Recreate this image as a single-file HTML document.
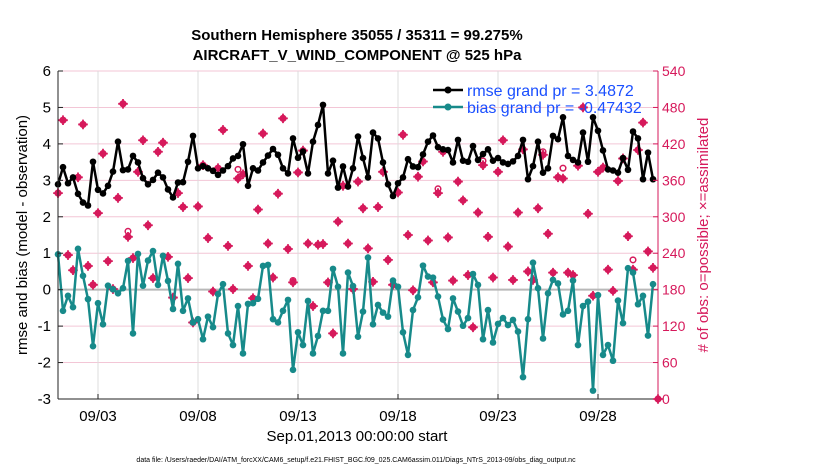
<!DOCTYPE html>
<html><head><meta charset="utf-8">
<style>
html,body{margin:0;padding:0;background:#fff;}
svg{display:block;font-family:"Liberation Sans",sans-serif;}
</style></head>
<body>
<svg id="chart" width="830" height="470" viewBox="0 0 830 470" xmlns="http://www.w3.org/2000/svg">
<rect width="830" height="470" fill="#fff"/>
<text x="357" y="40" text-anchor="middle" font-size="15" font-weight="bold">Southern Hemisphere 35055 / 35311 = 99.275%</text>
<text x="357" y="60" text-anchor="middle" font-size="15" font-weight="bold">AIRCRAFT_V_WIND_COMPONENT @ 525 hPa</text>
<g id="grid"></g>
<g id="marks"></g>
<g id="axes"></g>
<text transform="translate(27,235) rotate(-90)" text-anchor="middle" font-size="15">rmse and bias (model - observation)</text>
<text transform="translate(708,235) rotate(-90)" text-anchor="middle" font-size="15" fill="#d6195b"># of obs: o=possible; ×=assimilated</text>
<text x="357" y="441" text-anchor="middle" font-size="15">Sep.01,2013 00:00:00 start</text>
<text x="356" y="462" text-anchor="middle" font-size="7">data file: /Users/raeder/DAI/ATM_forcXX/CAM6_setup/f.e21.FHIST_BGC.f09_025.CAM6assim.011/Diags_NTrS_2013-09/obs_diag_output.nc</text>
<g id="legend">
<line x1="433" y1="90" x2="463" y2="90" stroke="#000" stroke-width="2.5"/>
<circle cx="448" cy="90" r="3.5" fill="#000"/>
<text x="467" y="96" font-size="16" fill="#1a4fff">rmse grand pr = 3.4872</text>
<line x1="433" y1="107" x2="463" y2="107" stroke="#178a8a" stroke-width="2.5"/>
<circle cx="448" cy="107" r="3.5" fill="#178a8a"/>
<text x="467" y="113" font-size="16" fill="#1a4fff">bias grand pr = -0.47432</text>
</g>
</svg>
<script>
const rmse = [2.89,3.36,2.92,3.08,2.63,2.39,2.31,3.51,2.74,2.64,2.85,3.24,4.06,3.28,3.30,3.67,3.49,3.06,2.89,3.01,3.21,3.08,2.75,2.53,2.94,2.95,3.51,4.22,3.33,3.39,3.33,
3.26,3.15,3.27,3.39,3.60,3.67,3.99,2.85,3.33,3.27,3.49,3.68,3.86,3.70,3.33,3.19,4.15,3.62,3.79,3.19,4.06,4.52,5.07,3.19,3.54,2.80,3.38,2.83,3.33,4.20,
3.61,3.08,4.31,4.15,3.49,2.89,2.57,2.92,3.08,3.58,3.38,3.36,3.71,4.06,4.23,3.91,3.85,3.83,3.49,4.11,3.54,3.51,3.94,3.56,3.72,3.85,3.54,3.61,3.49,3.45,
3.52,3.67,4.11,3.03,3.39,4.06,3.21,3.33,4.22,4.13,4.73,3.67,3.56,3.49,4.31,3.51,4.73,4.36,3.82,3.30,3.27,3.21,3.61,3.29,4.34,4.15,3.03,3.76,3.03];
const bias = [0.97,-0.58,-0.17,-0.48,1.12,0.38,-0.26,-1.55,-0.37,-0.95,0.11,0.01,-0.10,0.04,0.79,-1.20,0.98,0.11,0.80,1.06,0.13,0.93,0.24,-0.53,0.71,-0.58,-0.24,-0.90,-0.81,-1.36,-0.74,
-1.03,-0.12,0.15,-1.20,-1.52,-0.45,-1.75,-0.39,-0.37,-0.25,0.65,0.68,-0.81,-0.90,-0.58,-0.28,-2.20,-1.17,-1.52,-0.31,-1.75,-1.27,-0.58,-0.58,0.57,0.08,-1.75,0.47,0.10,-1.29,
-0.60,0.88,-0.95,-0.42,-0.63,-0.74,0.25,0.08,-1.17,-1.79,-0.56,-0.21,0.66,0.36,0.33,-0.19,-0.82,-1.08,-0.24,-0.60,-0.99,-0.78,0.43,0.13,-1.36,-0.56,-1.45,-0.94,-0.78,-0.97,
-0.83,-1.15,-2.40,-0.81,0.74,0.04,-1.34,-0.10,0.27,0.17,-0.68,-0.58,0.25,-1.52,-0.45,-0.33,-2.77,-0.15,-1.79,-1.52,-1.95,-0.30,-0.92,0.59,0.47,-0.40,-0.17,-1.26,0.15];
const nAssim = [339,459,237,212,365,452,219,188,306,404,227,181,331,486,267,232,374,426,286,199,407,422,234,167,339,316,199,126,317,385,265,
177,380,443,252,181,363,370,219,166,312,437,256,200,338,462,247,192,373,409,256,153,254,255,192,108,292,351,256,181,358,
314,248,193,316,374,229,188,340,435,270,179,366,391,261,192,339,407,266,195,358,327,204,118,307,385,267,200,374,426,251,
196,307,411,210,196,314,402,272,208,365,363,208,204,384,480,305,170,374,381,213,178,359,396,268,213,410,455,243,216,0];
const nPoss = nAssim.map(v=>v);
const possOverrides = {14:276,36:378,47:195,76:346,85:392,97:407,101:380,115:229};
for (const k in possOverrides) nPoss[k] = possOverrides[k];
const leftTicks = [-3,-2,-1,0,1,2,3,4,5,6];
const rightTicks = [0,60,120,180,240,300,360,420,480,540];
const xTickDays = [2,7,12,17,22,27];
const xTickLabels = ["09/03","09/08","09/13","09/18","09/23","09/28"];

const NS="http://www.w3.org/2000/svg";
const X0=58, X1=658, Y0=71, Y1=399;
const xs = d => X0 + (d/30)*(X1-X0);
const yl = v => Y1 - (v+3)/9*(Y1-Y0);
const yr = c => Y1 - c/540*(Y1-Y0);
const tOf = i => i*0.25;
function mk(tag, attrs, parent){const e=document.createElementNS(NS,tag);for(const k in attrs)e.setAttribute(k,attrs[k]);parent.appendChild(e);return e;}
const grid=document.getElementById('grid'), marks=document.getElementById('marks'), axes=document.getElementById('axes');

rightTicks.forEach(c=>{ if(c>0){ const l=mk('line',{x1:X0,x2:X1,y1:yr(c),y2:yr(c),stroke:'#f3c6d6','stroke-width':1},grid);

}});
xTickDays.forEach(d=>{const l=mk('line',{x1:xs(d),x2:xs(d),y1:Y0,y2:Y1,stroke:'#dcdcdc','stroke-width':1},grid);

});
const zl=mk('line',{x1:X0,x2:X1,y1:yl(0),y2:yl(0),stroke:'#b8b8b8','stroke-width':2},grid);



nPoss.forEach((c,i)=>{ if(c!==nAssim[i]){ const o=mk('circle',{cx:xs(tOf(i)),cy:yr(c),r:2.8,fill:'none',stroke:'#d6195b','stroke-width':1.5},marks);

}});
nAssim.forEach((c,i)=>{const cx=xs(tOf(i)), cy=yr(c);
const g=mk('g',{},marks);


mk('circle',{cx:cx,cy:cy,r:3.6,fill:'#d6195b'},g);
mk('path',{d:`M${cx-4.8},${cy}H${cx+4.8}M${cx},${cy-4.8}V${cy+4.8}`,stroke:'#d6195b','stroke-width':1.8},g);});

function series(arr,color,name){
 const p=mk('polyline',{points:arr.map((v,i)=>xs(tOf(i))+','+yl(v)).join(' '),fill:'none',stroke:color,'stroke-width':2.5,'stroke-linejoin':'round'},marks);
 
 
 arr.forEach((v,i)=>{const c=mk('circle',{cx:xs(tOf(i)),cy:yl(v),r:3.3,fill:color},marks);
 
 });
}
series(bias,'#178a8a','bias');
series(rmse,'#000000','rmse');

const la=mk('line',{x1:X0,x2:X0,y1:Y0,y2:Y1,stroke:'#222','stroke-width':1},axes);


const ba=mk('line',{x1:X0,x2:X1,y1:Y1,y2:Y1,stroke:'#222','stroke-width':1},axes);


const ra=mk('line',{x1:X1,x2:X1,y1:Y0,y2:Y1,stroke:'#d6195b','stroke-width':1},axes);


leftTicks.forEach(v=>{mk('line',{x1:X0,x2:X0+5,y1:yl(v),y2:yl(v),stroke:'#222'},axes);
const t=mk('text',{x:X0-7,y:yl(v)+5,'text-anchor':'end','font-size':15},axes);t.textContent=v;

});
rightTicks.forEach(c=>{mk('line',{x1:X1-5,x2:X1,y1:yr(c),y2:yr(c),stroke:'#d6195b'},axes);
const t=mk('text',{x:X1+4,y:yr(c)+5,'font-size':14,fill:'#d6195b'},axes);t.textContent=c;

});
xTickDays.forEach((d,k)=>{mk('line',{x1:xs(d),x2:xs(d),y1:Y1-5,y2:Y1,stroke:'#222'},axes);
const t=mk('text',{x:xs(d),y:421,'text-anchor':'middle','font-size':15},axes);t.textContent=xTickLabels[k];

});
</script>
</body></html>
